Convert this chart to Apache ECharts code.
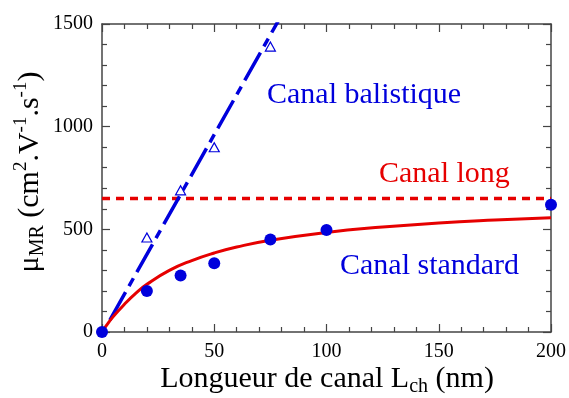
<!DOCTYPE html>
<html><head><meta charset="utf-8">
<script src="https://cdn.jsdelivr.net/npm/echarts@6/dist/echarts.min.js"></script>
<style>html,body{margin:0;padding:0;background:#fff}#c{width:569px;height:398px}</style>
</head><body><div id="c"></div>
<script>
// Data
var standardL = [0, 20, 35, 50, 75, 100, 200];
var standardMu = [0, 200, 275, 335, 450, 497, 620];
var ballisticL = [20, 35, 50, 75];
var ballisticMu = [460, 690, 900, 1390];
var fitL = [0, 2, 5, 10, 15, 20, 30, 40, 50, 60, 75, 100, 125, 150, 175, 200];
var fitMu = [0, 32, 75, 135, 188, 232, 300, 348, 385, 414, 447, 485, 511, 531, 545, 556];
var ballFitL = [3.5, 80];
var ballFitMu = [58, 1544];
var longL = [0, 200];
var longMu = [650, 650];
var xTicks = [0, 50, 100, 150, 200];
var yTicks = [0, 500, 1000, 1500];

function pairs(a, b) { return a.map(function (v, i) { return [v, b[i]]; }); }

var FONT = 'Liberation Serif';
var AX = '#444';
var BLUE = '#0000dc';
var RED = '#e60000';

function axisCommon(extra) {
  var o = {
    type: 'value',
    axisLine: { show: true, onZero: false, lineStyle: { color: AX, width: 1.5 } },
    axisTick: { show: true, inside: true, length: 8, lineStyle: { color: AX, width: 1.2 } },
    minorTick: { show: true, splitNumber: 5, length: 5, lineStyle: { color: AX, width: 1.2 } },
    splitLine: { show: false },
    minorSplitLine: { show: false }
  };
  for (var k in extra) o[k] = extra[k];
  return o;
}

var chart = echarts.init(document.getElementById('c'), null, { renderer: 'canvas' });
chart.setOption({
  animation: false,
  grid: { left: 102, right: 16, top: 24, bottom: 66 },
  xAxis: [
    axisCommon({ position: 'bottom', min: 0, max: 200, interval: 50,
      axisLabel: { show: true, margin: 10, fontFamily: FONT, fontSize: 20, color: '#000',
        formatter: function (v) { return xTicks.indexOf(v) >= 0 ? String(v) : ''; } } }),
    axisCommon({ position: 'top', min: 0, max: 200, interval: 50, axisLabel: { show: false } })
  ],
  yAxis: [
    axisCommon({ position: 'left', min: 0, max: 1500, interval: 500,
      axisLabel: { show: true, margin: 9, fontFamily: FONT, fontSize: 20, color: '#000',
        formatter: function (v) { return yTicks.indexOf(v) >= 0 ? String(v) : ''; } } }),
    axisCommon({ position: 'right', min: 0, max: 1500, interval: 500, axisLabel: { show: false } })
  ],
  series: [
    { type: 'line', data: pairs(longL, longMu), symbol: 'none', clip: true,
      lineStyle: { color: RED, width: 3.5, type: [8, 6] }, z: 2 },
    { type: 'line', data: pairs(ballFitL, ballFitMu), symbol: 'none', clip: true,
      lineStyle: { color: BLUE, width: 3.5, type: [32, 7, 9, 7] }, z: 2 },
    { type: 'line', data: pairs(fitL, fitMu), symbol: 'none', smooth: true, clip: true,
      lineStyle: { color: RED, width: 3 }, z: 3 },
    { type: 'scatter', data: pairs(ballisticL, ballisticMu), symbol: 'triangle', symbolSize: [10, 9],
      itemStyle: { color: '#fff', opacity: 1, borderColor: BLUE, borderWidth: 1.2 }, z: 4 },
    { type: 'scatter', data: pairs(standardL, standardMu), symbol: 'circle', symbolSize: 12,
      itemStyle: { color: BLUE, opacity: 1 }, z: 5, clip: false }
  ],
  graphic: [
    { type: 'text', left: 267, top: 80, style: { text: 'Canal balistique', font: '30px "Liberation Serif"', fill: BLUE } },
    { type: 'text', left: 379, top: 159, style: { text: 'Canal long', font: '30px "Liberation Serif"', fill: RED } },
    { type: 'text', left: 340, top: 251, style: { text: 'Canal standard', font: '30px "Liberation Serif"', fill: BLUE } },
    { type: 'text', x: 327, y: 379, style: {
        text: '{m|Longueur de canal L}{s|ch}{m| (nm)}', align: 'center', verticalAlign: 'middle', fill: '#000',
        rich: { m: { fontFamily: FONT, fontSize: 30, lineHeight: 36 }, s: { fontFamily: FONT, fontSize: 20, verticalAlign: 'bottom', lineHeight: 36 } } } },
    { type: 'text', x: 30, y: 172, rotation: Math.PI / 2, style: {
        text: '{m|\u03bc}{s|MR}{m| (cm}{p|2}{m|.V}{p|-1}{m|.s}{p|-1}{m|)}', align: 'center', verticalAlign: 'middle', fill: '#000',
        rich: { m: { fontFamily: FONT, fontSize: 30, lineHeight: 36 }, s: { fontFamily: FONT, fontSize: 20, verticalAlign: 'bottom', lineHeight: 36 }, p: { fontFamily: FONT, fontSize: 19, verticalAlign: 'top', lineHeight: 36 } } } }
  ]
});
</script></body></html>
